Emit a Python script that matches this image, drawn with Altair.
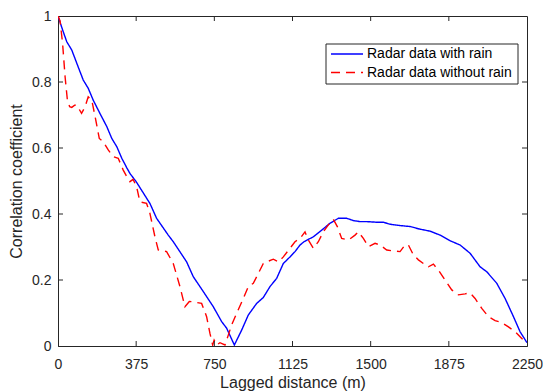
import altair as alt
import pandas as pd

# Radar data with rain (blue, solid)
rain_x = [0, 22, 42, 66, 90, 121, 145, 169, 201, 234, 258, 282, 306, 330, 345, 375,
          441, 473, 529, 553, 617, 649, 697, 745, 785, 809, 846, 881, 913, 953, 985,
          1017, 1049, 1081, 1113, 1137, 1161, 1180, 1225, 1265, 1305, 1345, 1385, 1417,
          1449, 1481, 1529, 1561, 1593, 1641, 1689, 1737, 1785, 1833, 1881, 1929, 1977,
          2025, 2057, 2105, 2145, 2185, 2217, 2250]
rain_y = [1.0, 0.958, 0.922, 0.897, 0.857, 0.806, 0.781, 0.745, 0.705, 0.665, 0.629,
          0.604, 0.569, 0.540, 0.523, 0.498, 0.432, 0.387, 0.336, 0.316, 0.255, 0.21,
          0.165, 0.119, 0.074, 0.054, 0.003, 0.048, 0.094, 0.129, 0.147, 0.18, 0.205,
          0.25, 0.27, 0.286, 0.306, 0.316, 0.331, 0.351, 0.372, 0.387, 0.387, 0.38,
          0.377, 0.377, 0.375, 0.375, 0.369, 0.365, 0.362, 0.354, 0.348, 0.336, 0.319,
          0.306, 0.281, 0.24, 0.225, 0.19, 0.144, 0.089, 0.043, 0.01]

# Radar data without rain (red, dashed)
norain_x = [0, 10, 22, 34, 45, 56, 66, 80, 90, 113, 130, 145, 162, 178, 198, 217, 241,
            265, 289, 313, 330, 345, 360, 377, 393, 425, 441, 465, 481, 521, 553, 585,
            609, 630, 649, 689, 713, 729, 742, 749, 761, 777, 801, 817, 833, 857, 889,
            913, 937, 961, 985, 1009, 1033, 1057, 1081, 1113, 1137, 1161, 1185, 1201,
            1225, 1249, 1273, 1297, 1321, 1340, 1361, 1393, 1425, 1441, 1465, 1489, 1521,
            1545, 1577, 1609, 1641, 1665, 1681, 1705, 1729, 1753, 1777, 1801, 1825, 1857,
            1889, 1921, 1953, 1977, 2001, 2033, 2065, 2097, 2129, 2161, 2193, 2225, 2250]
norain_y = [1.0, 0.985, 0.917, 0.816, 0.745, 0.725, 0.723, 0.73, 0.73, 0.705, 0.725,
            0.755, 0.745, 0.695, 0.629, 0.619, 0.594, 0.574, 0.569, 0.533, 0.513, 0.498,
            0.505, 0.483, 0.437, 0.432, 0.402, 0.331, 0.291, 0.286, 0.25, 0.18, 0.119,
            0.135, 0.134, 0.129, 0.089, 0.038, 0.003, 0.018, 0.003, 0.01, 0.003, 0.033,
            0.064, 0.099, 0.144, 0.18, 0.19, 0.22, 0.25, 0.257, 0.263, 0.255, 0.27, 0.296,
            0.316, 0.326, 0.346, 0.321, 0.296, 0.316, 0.346, 0.367, 0.384, 0.362, 0.326,
            0.321, 0.336, 0.346, 0.326, 0.301, 0.311, 0.306, 0.291, 0.288, 0.286, 0.306,
            0.306, 0.276, 0.261, 0.25, 0.24, 0.248, 0.23, 0.2, 0.17, 0.155, 0.158, 0.161,
            0.144, 0.114, 0.089, 0.077, 0.071, 0.058, 0.043, 0.023, 0.008]

series_names = ["Radar data with rain", "Radar data without rain"]
series_colors = ["#0000FF", "#FF0000"]
series_dash = [[1, 0], [9, 6]]
x_ticks = [0, 375, 750, 1125, 1500, 1875, 2250]
y_ticks = [0, 0.2, 0.4, 0.6, 0.8, 1.0]

W, H = 469, 330
FONT = "Liberation Sans"
AX = "#262626"
LW = 1.4

df = pd.concat([
    pd.DataFrame({"x": rain_x, "y": rain_y, "s": series_names[0], "o": range(len(rain_x))}),
    pd.DataFrame({"x": norain_x, "y": norain_y, "s": series_names[1], "o": range(len(norain_x))}),
])

xs = alt.Scale(domain=[0, 2250], nice=False, zero=False)
ys = alt.Scale(domain=[0, 1], nice=False)

lines = alt.Chart(df).mark_line(strokeWidth=LW, clip=True).encode(
    x=alt.X("x:Q", scale=xs,
            axis=alt.Axis(values=x_ticks, title="Lagged distance (m)", format="d")),
    y=alt.Y("y:Q", scale=ys,
            axis=alt.Axis(values=y_ticks, title="Correlation coefficient", format="~g")),
    order="o:Q",
    color=alt.Color("s:N", scale=alt.Scale(domain=series_names, range=series_colors), legend=None),
    strokeDash=alt.StrokeDash("s:N", scale=alt.Scale(domain=series_names, range=series_dash),
                              legend=None),
)

xt = pd.DataFrame({"t": x_ticks[1:-1]})
yt = pd.DataFrame({"t": y_ticks[1:-1]})

xb = alt.Chart(xt).mark_rule(color=AX, strokeWidth=1).encode(
    x=alt.X("t:Q", scale=xs), y=alt.value(H), y2=alt.value(H - 5))
xtop = alt.Chart(xt).mark_rule(color=AX, strokeWidth=1).encode(
    x=alt.X("t:Q", scale=xs), y=alt.value(0), y2=alt.value(5))
yl = alt.Chart(yt).mark_rule(color=AX, strokeWidth=1).encode(
    y=alt.Y("t:Q", scale=ys), x=alt.value(0), x2=alt.value(5))
yr = alt.Chart(yt).mark_rule(color=AX, strokeWidth=1).encode(
    y=alt.Y("t:Q", scale=ys), x=alt.value(W - 5), x2=alt.value(W))

# Legend (box, line samples, labels)
LX0, LX1, LY0, LY1 = 268, 460, 28, 68
ROWS = [38, 56.5]
one = pd.DataFrame({"k": [0]})
legend_layers = [
    alt.Chart(one).mark_rect(fill="white", stroke=AX, strokeWidth=1).encode(
        x=alt.value(LX0), x2=alt.value(LX1), y=alt.value(LY0), y2=alt.value(LY1))
]
for name, col, dash, ry in zip(series_names, series_colors, series_dash, ROWS):
    legend_layers.append(
        alt.Chart(one).mark_rule(color=col, strokeWidth=LW, strokeDash=dash).encode(
            x=alt.value(LX0 + 5), x2=alt.value(LX0 + 37), y=alt.value(ry)))
    legend_layers.append(
        alt.Chart(pd.DataFrame({"s": [name]})).mark_text(
            font=FONT, fontSize=14, color="black", align="left", baseline="middle").encode(
            x=alt.value(LX0 + 41), y=alt.value(ry), text="s:N"))

chart = alt.layer(lines, xb, xtop, yl, yr, *legend_layers).properties(
    width=W, height=H,
    autosize=alt.AutoSizeParams(type="none"),
    padding={"left": 58, "top": 16, "right": 16, "bottom": 45},
).configure_view(
    stroke=AX, strokeWidth=1
).configure_axis(
    grid=False, ticks=False, domainColor=AX, domainWidth=1, labelFlush=False,
    labelFont=FONT, labelFontSize=14, labelColor=AX,
    titleFont=FONT, titleFontSize=16, titleColor=AX, titleFontWeight="normal",
).configure_axisX(
    labelPadding=11, titlePadding=3,
).configure_axisY(
    labelPadding=7, titlePadding=7,
)

chart.save("out.html", embed_options={"renderer": "svg", "actions": False})
